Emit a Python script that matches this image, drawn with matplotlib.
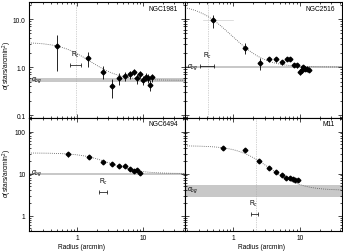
import numpy as np
import matplotlib
matplotlib.use("Agg")
import matplotlib.pyplot as plt
from matplotlib.ticker import LogLocator, NullFormatter, FixedLocator, FixedFormatter

plt.rcParams['font.family'] = ['Liberation Sans', 'DejaVu Sans']
plt.rcParams['mathtext.fontset'] = 'custom'
plt.rcParams['mathtext.rm'] = 'Liberation Sans'
plt.rcParams['mathtext.it'] = 'Liberation Sans:italic'

# NGC1981
r_1981 = [0.50, 1.48, 2.45, 3.43, 4.33, 5.28, 6.28, 7.23, 8.1, 9.1, 10.1, 11.0, 11.8, 12.8, 13.8]
d_1981 = [2.74, 1.52, 0.80, 0.40, 0.60, 0.65, 0.70, 0.80, 0.58, 0.71, 0.54, 0.63, 0.58, 0.42, 0.61]
e_1981 = [1.9, 0.5, 0.24, 0.17, 0.17, 0.14, 0.13, 0.13, 0.13, 0.13, 0.12, 0.12, 0.12, 0.11, 0.11]

# NGC2516
r_2516 = [0.50, 1.50, 2.48, 3.43, 4.37, 5.39, 6.35, 7.1, 8.2, 9.2, 10.1, 10.7, 11.4, 12.0, 13.1, 14.0]
d_2516 = [9.5, 2.53, 1.21, 1.45, 1.45, 1.27, 1.45, 1.45, 1.12, 1.08, 0.80, 0.88, 0.98, 0.91, 0.91, 0.88]
e_2516 = [2.9, 0.65, 0.35, 0.17, 0.15, 0.14, 0.14, 0.13, 0.12, 0.12, 0.11, 0.11, 0.11, 0.1, 0.1, 0.1]

# NGC6494
r_6494 = [0.72, 1.50, 2.45, 3.43, 4.33, 5.28, 6.28, 7.23, 8.1, 9.1]
d_6494 = [29.1, 24.7, 19.1, 17.1, 14.8, 14.8, 12.8, 11.3, 12.3, 10.4]
e_6494 = [4.0, 2.2, 1.6, 1.3, 1.1, 1.0, 0.9, 0.8, 0.8, 0.7]

# M11
r_m11 = [0.71, 1.50, 2.45, 3.43, 4.37, 5.33, 6.28, 7.1, 7.95, 8.5, 9.3]
d_m11 = [39.8, 35.7, 19.5, 13.3, 11.0, 9.05, 7.95, 7.7, 7.3, 6.9, 6.9]
e_m11 = [2.5, 1.8, 1.0, 0.7, 0.6, 0.5, 0.4, 0.4, 0.4, 0.3, 0.3]

# King profile fits: background, central density, core radius
names = ['NGC1981', 'NGC2516', 'NGC6494', 'M11']
bg = [0.53, 1.0, 10.0, 4.0]
bg_err = [0.05, 0.05, 0.6, 1.25]
f0 = [2.75, 19.0, 21.0, 42.0]
rc = [1.0, 0.45, 2.4, 1.9]

# R_c markers (value, low, high, y position) and vertical line positions
rc_bar = [(0.95, 0.78, 1.15, 1.1), (0.41, 0.32, 0.51, 1.03), (2.5, 2.15, 2.85, 3.6), (2.05, 1.83, 2.34, 1.09)]
rc_line = [0.95, 0.41, None, 2.2]

W, H = 343, 253
fig = plt.figure(figsize=(W / 100, H / 100), dpi=100)

x_l, x_m, x_r = 29, 185, 342
y_t, y_m, y_b = 3, 119, 232
boxes = [(x_l, y_t, x_m, y_m), (x_m, y_t, x_r, y_m), (x_l, y_m, x_m, y_b), (x_m, y_m, x_r, y_b)]
data = [(r_1981, d_1981, e_1981), (r_2516, d_2516, e_2516), (r_6494, d_6494, e_6494), (r_m11, d_m11, e_m11)]

xlim = (0.187, 43.4)
ylims = [(0.087, 22.6), (0.087, 22.6), (0.43, 210), (0.43, 210)]
fs = 4.8

for i, (x0, y0, x1, y1) in enumerate(boxes):
    ax = fig.add_axes([x0 / W, 1 - y1 / H, (x1 - x0) / W, (y1 - y0) / H])
    ax.set_xscale('log')
    ax.set_yscale('log')
    ax.set_xlim(*xlim)
    ax.set_ylim(*ylims[i])

    # background band
    ax.axhspan(bg[i] - bg_err[i], bg[i] + bg_err[i], color='#c8c8c8', lw=0, zorder=0)

    # King profile
    rr = np.logspace(np.log10(xlim[0]), np.log10(xlim[1]), 300)
    ax.plot(rr, bg[i] + f0[i] / (1 + (rr / rc[i]) ** 2), ls=(0, (1, 1.5)), color='#555555', lw=0.6, zorder=2)

    if rc_line[i] is not None:
        ax.axvline(rc_line[i], ls=(0, (1, 1.5)), color='#aaaaaa', lw=0.5, zorder=1)

    r, d, e = data[i]
    if i == 1:
        ax.plot([0.35, 1.0], [d[0], d[0]], color='#d0d0d0', lw=0.5, zorder=2)
    ax.errorbar(r, d, yerr=e, fmt='D', color='black', ms=2.4, elinewidth=0.6, capsize=0, zorder=3)

    # R_c marker
    v, lo, hi, yy = rc_bar[i]
    ax.errorbar([v], [yy], xerr=[[v - lo], [hi - v]], fmt='none', ecolor='black', elinewidth=0.5,
                capsize=1.2, capthick=0.5)
    ax.annotate(r'R$_c$', (v, yy), xytext=(0, 8), textcoords='offset points', ha='center', va='center',
                fontsize=fs)

    ax.annotate(r'$\sigma_{bg}$', (0.2, bg[i]), xytext=(0, 1), textcoords='offset points', ha='left',
                va='center', fontsize=fs)
    ax.text(0.955, 0.948, names[i], transform=ax.transAxes, ha='right', va='center', fontsize=fs)

    ax.tick_params(which='both', direction='in', top=True, right=True, width=0.5, labelsize=fs, pad=2.5)
    ax.tick_params(which='major', length=3)
    ax.tick_params(which='minor', length=1.5)
    for s in ax.spines.values():
        s.set_linewidth(0.8)

    ax.xaxis.set_major_locator(FixedLocator([1, 10]))
    ax.xaxis.set_minor_locator(LogLocator(base=10, subs=np.arange(2, 10)))
    ax.xaxis.set_minor_formatter(NullFormatter())
    if i >= 2:
        ax.xaxis.set_major_formatter(FixedFormatter(['1', '10']))
    else:
        ax.xaxis.set_major_formatter(NullFormatter())

    ax.yaxis.set_minor_locator(LogLocator(base=10, subs=np.arange(2, 10)))
    ax.yaxis.set_minor_formatter(NullFormatter())
    if i == 0:
        ax.yaxis.set_major_locator(FixedLocator([0.1, 1, 10]))
        ax.yaxis.set_major_formatter(FixedFormatter(['0.1', '1.0', '10.0']))
    elif i == 2:
        ax.yaxis.set_major_locator(FixedLocator([1, 10, 100]))
        ax.yaxis.set_major_formatter(FixedFormatter(['1', '10', '100']))
    else:
        ax.yaxis.set_major_locator(FixedLocator([0.1, 1, 10, 100]))
        ax.yaxis.set_major_formatter(NullFormatter())

# axis titles
ylab = r'$\sigma$(stars/arcmin$^2$)'
fig.text(7 / W, 1 - 66 / H, ylab, rotation=90, ha='center', va='center', fontsize=fs)
fig.text(7 / W, 1 - 174 / H, ylab, rotation=90, ha='center', va='center', fontsize=fs)
fig.text(81 / W, 1 - 248 / H, 'Radius (arcmin)', ha='center', va='center', fontsize=fs)
fig.text(262 / W, 1 - 248 / H, 'Radius (arcmin)', ha='center', va='center', fontsize=fs)

fig.savefig('out.png', dpi=100)
